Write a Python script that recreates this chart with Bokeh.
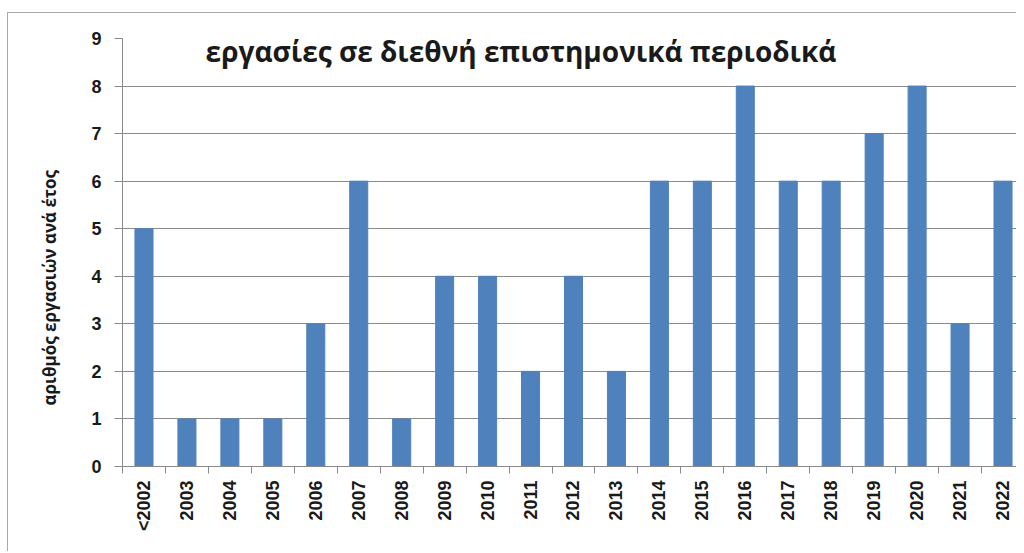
import math
from bokeh.plotting import figure
from bokeh.models import Range1d, FixedTicker, Label, Title
from bokeh.layouts import column
from bokeh.embed import file_html
from bokeh.resources import INLINE

categories = ["<2002", "2003", "2004", "2005", "2006", "2007", "2008", "2009", "2010",
              "2011", "2012", "2013", "2014", "2015", "2016", "2017", "2018", "2019",
              "2020", "2021", "2022"]
values = [5, 1, 1, 1, 3, 6, 1, 4, 4, 2, 4, 2, 6, 6, 8, 6, 6, 7, 8, 3, 6]
y_ticks = list(range(0, 10))
title_text = "εργασίες σε διεθνή επιστημονικά περιοδικά"
y_label = "αριθμός εργασιών ανά έτος"

n = len(categories)
xs = [i + 0.5 for i in range(n)]

# figure sits inside a bordered box starting at (7,12) -> canvas origin (8,13)
OX, OY = 8, 13
W, H = 1008, 538
left_b = 121 - OX
top_b = 38 - OY
frame_h = 466 - 38
bottom_b = H - top_b - frame_h
slot = 43.0

p = figure(width=W, height=H, output_backend="svg", toolbar_location=None,
           x_range=Range1d(0, (W - left_b) / slot), y_range=Range1d(0, 9),
           min_border_left=left_b, min_border_right=0, min_border_top=top_b,
           min_border_bottom=bottom_b)
p.outline_line_color = None
p.background_fill_color = "white"
p.border_fill_color = "white"

p.vbar(x=xs, top=values, width=0.42, color="#4F81BD")

grey = "#8a8a8a"
p.xgrid.visible = False
p.ygrid.ticker = FixedTicker(ticks=y_ticks)
p.ygrid.grid_line_color = grey
p.ygrid.grid_line_width = 1

# y axis
p.yaxis.ticker = FixedTicker(ticks=y_ticks)
p.yaxis.axis_line_color = grey
p.yaxis.major_tick_line_color = grey
p.yaxis.major_tick_out = 8
p.yaxis.major_tick_in = 0
p.yaxis.minor_tick_line_color = None
p.yaxis.major_label_text_font = "Liberation Sans"
p.yaxis.major_label_text_font_style = "bold"
p.yaxis.major_label_text_font_size = "18px"
p.yaxis.major_label_text_color = "#1a1a1a"
p.yaxis.major_label_standoff = 13

# x axis
p.xaxis.ticker = FixedTicker(ticks=xs, minor_ticks=list(range(0, n + 1)))
p.xaxis.major_label_overrides = {x: c for x, c in zip(xs, categories)}
p.xaxis.major_label_orientation = math.pi / 2
p.xaxis.axis_line_color = grey
p.xaxis.major_tick_line_color = None
p.xaxis.major_tick_out = 0
p.xaxis.minor_tick_line_color = grey
p.xaxis.minor_tick_out = 7
p.xaxis.minor_tick_in = 0
p.xaxis.major_label_text_font = "Liberation Sans"
p.xaxis.major_label_text_font_style = "bold"
p.xaxis.major_label_text_font_size = "18px"
p.xaxis.major_label_text_color = "#1a1a1a"
p.xaxis.major_label_standoff = 7

title = Label(x=(520 - 121) / slot, y=9, y_offset=-12, text=title_text,
              text_align="center", text_baseline="alphabetic",
              text_font="Open Sans", text_font_style="bold", text_font_size="28px",
              text_color="#1a1a1a")
p.add_layout(title)

ytitle = Title(text=y_label, align="left", offset=61, standoff=55,
               text_font="Open Sans", text_font_style="bold", text_font_size="17px",
               text_color="#1a1a1a")
p.add_layout(ytitle, "left")

layout = column(p, margin=(12, 0, 0, 7),
                styles={"border-left": "1px solid #a8a8a8", "border-top": "1px solid #a8a8a8"})

open("out.html", "w").write(file_html(layout, INLINE))
